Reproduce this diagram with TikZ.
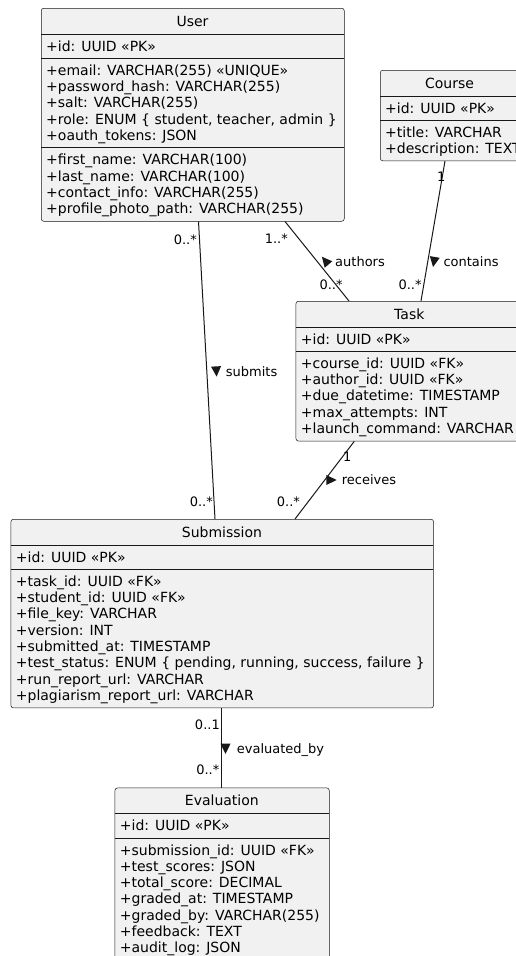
\documentclass[tikz,border=0pt]{standalone}
\usepackage{fontspec}
\setmainfont{DejaVu Sans}
\definecolor{boxfill}{HTML}{F1F1F1}
\definecolor{ink}{HTML}{181818}
\tikzset{
  classbox/.style={draw=ink, line width=0.5pt, fill=boxfill, rounded corners=2.5pt,
                   inner sep=0pt, anchor=north west},
  titlesep/.style={draw=ink, line width=0.5pt},
  sepline/.style={draw=ink, line width=1pt},
  row/.style={anchor=base west, inner sep=0pt, font=\fontsize{14}{16.3}\selectfont},
  ctitle/.style={anchor=base, inner sep=0pt, font=\fontsize{14}{16.3}\selectfont},
  assoc/.style={draw=ink, line width=1pt},
  mult/.style={inner sep=0pt, font=\fontsize{13}{15}\selectfont},
}
% filled direction mark: centre x, centre y, screen angle (clockwise, y grows downwards)
\newcommand\dirmark[3]{\fill[ink,shift={(#1,#2)},rotate=-#3] (5.6,0) -- (-4.6,-5) -- (-4.6,5) -- cycle;}
% horizontal compartment separator: left, right, y
\newcommand\csep[4][sepline]{\draw[#1] (#2,#4) -- (#3,#4);}

\begin{document}
\begin{tikzpicture}[x=1pt,y=-1pt]
\useasboundingbox (0,0) rectangle (516,956);
\clip (0,0) rectangle (516,956);
\fill[white] (0,0) rectangle (516,956);

% ---------------- User ----------------
\node[classbox, minimum width=303pt, minimum height=213pt] (user) at (41,8) {};
\node[ctitle] (user-title) at (192.5,26) {User};
\csep[titlesep]{41}{344}{34}
\node[row] (user-id) at (46,51) {+id: UUID «PK»};
\csep{41}{344}{58.3}
\foreach \t [count=\i from 0] in {%
  {+email: VARCHAR(255) «UNIQUE»},
  {+password\_hash: VARCHAR(255)},
  {+salt: VARCHAR(255)},
  {+role: ENUM \{ student, teacher, admin \}},
  {+oauth\_tokens: JSON}}
  \node[row] (user-a\i) at (46,75.3+16.3*\i) {\t};
\csep{41}{344}{147.8}
\foreach \t [count=\i from 0] in {%
  {+first\_name: VARCHAR(100)},
  {+last\_name: VARCHAR(100)},
  {+contact\_info: VARCHAR(255)},
  {+profile\_photo\_path: VARCHAR(255)}}
  \node[row] (user-b\i) at (46,164.8+16.3*\i) {\t};

% ---------------- Course ----------------
\node[classbox, minimum width=139pt, minimum height=90.5pt] (course) at (380,70) {};
\node[ctitle] (course-title) at (449.5,88) {Course};
\csep[titlesep]{380}{519}{96}
\node[row] (course-id) at (385,113) {+id: UUID «PK»};
\csep{380}{519}{120.3}
\node[row] (course-a0) at (385,137.3) {+title: VARCHAR};
\node[row] (course-a1) at (385,153.6) {+description: TEXT};

% ---------------- Task ----------------
\node[classbox, minimum width=227pt, minimum height=139.8pt] (task) at (295.7,301) {};
\node[ctitle] (task-title) at (409.3,319) {Task};
\csep[titlesep]{295.7}{522.7}{327}
\node[row] (task-id) at (300.7,344) {+id: UUID «PK»};
\csep{295.7}{522.7}{351.3}
\foreach \t [count=\i from 0] in {%
  {+course\_id: UUID «FK»},
  {+author\_id: UUID «FK»},
  {+due\_datetime: TIMESTAMP},
  {+max\_attempts: INT},
  {+launch\_command: VARCHAR}}
  \node[row] (task-a\i) at (300.7,368.3+16.3*\i) {\t};

% ---------------- Submission ----------------
\node[classbox, minimum width=422.6pt, minimum height=188.7pt] (submission) at (10.7,519) {};
\node[ctitle] (submission-title) at (222,537) {Submission};
\csep[titlesep]{10.7}{433.3}{545}
\node[row] (submission-id) at (15.7,562) {+id: UUID «PK»};
\csep{10.7}{433.3}{569.3}
\foreach \t [count=\i from 0] in {%
  {+task\_id: UUID «FK»},
  {+student\_id: UUID «FK»},
  {+file\_key: VARCHAR},
  {+version: INT},
  {+submitted\_at: TIMESTAMP},
  {+test\_status: ENUM \{ pending, running, success, failure \}},
  {+run\_report\_url: VARCHAR},
  {+plagiarism\_report\_url: VARCHAR}}
  \node[row] (submission-a\i) at (15.7,586.3+16.3*\i) {\t};

% ---------------- Evaluation ----------------
\node[classbox, minimum width=214.3pt, minimum height=172.3pt] (evaluation) at (114.7,787.7) {};
\node[ctitle] (evaluation-title) at (221.85,805.7) {Evaluation};
\csep[titlesep]{114.7}{329}{813.7}
\node[row] (evaluation-id) at (119.7,830.7) {+id: UUID «PK»};
\csep{114.7}{329}{838}
\foreach \t [count=\i from 0] in {%
  {+submission\_id: UUID «FK»},
  {+test\_scores: JSON},
  {+total\_score: DECIMAL},
  {+graded\_at: TIMESTAMP},
  {+graded\_by: VARCHAR(255)},
  {+feedback: TEXT},
  {+audit\_log: JSON}}
  \node[row] (evaluation-a\i) at (119.7,855+16.3*\i) {\t};

% ---------------- Associations ----------------
\draw[assoc] ([xshift=157.5pt]user.south west) -- ([xshift=204.3pt]submission.north west);
\node[mult, anchor=base east] (m-us-1) at (197,244) {0..*};
\node[mult, anchor=base east] (m-us-2) at (213,506) {0..*};
\dirmark{216.3}{371}{86.8}
\node[mult, anchor=base west] (l-submits) at (225.7,376) {submits};

\draw[assoc] ([xshift=244pt]user.south west) -- ([xshift=53.3pt]task.north west);
\node[mult, anchor=base east] (m-ut-1) at (288,243.5) {1..*};
\node[mult, anchor=base west] (m-ut-2) at (319.3,289.5) {0..*};
\dirmark{325.5}{261}{229.8}
\node[mult, anchor=base west] (l-authors) at (335,266) {authors};

\draw[assoc] ([xshift=65pt]course.south west) -- ([xshift=125.3pt]task.north west);
\node[mult, anchor=base west] (m-ct-1) at (437,181) {1};
\node[mult, anchor=base west] (m-ct-2) at (398.3,289.5) {0..*};
\dirmark{434}{261.5}{99.7}
\node[mult, anchor=base west] (l-contains) at (443.3,266) {contains};

\draw[assoc] ([xshift=58.6pt]task.south west) -- ([xshift=284.3pt]submission.north west);
\node[mult, anchor=base west] (m-ts-1) at (343,461.5) {1};
\node[mult, anchor=base west] (m-ts-2) at (276.7,506) {0..*};
\dirmark{331}{480}{0}
\node[mult, anchor=base west] (l-receives) at (341.7,484.5) {receives};

\draw[assoc] ([xshift=211pt]submission.south west) -- ([xshift=107pt]evaluation.north west);
\node[mult, anchor=base east] (m-se-1) at (220,729.5) {0..1};
\node[mult, anchor=base east] (m-se-2) at (219.5,774.5) {0..*};
\dirmark{225.5}{748.3}{90}
\node[mult, anchor=base west] (l-evaluated) at (236.7,753) {evaluated\_by};
\end{tikzpicture}
\end{document}
